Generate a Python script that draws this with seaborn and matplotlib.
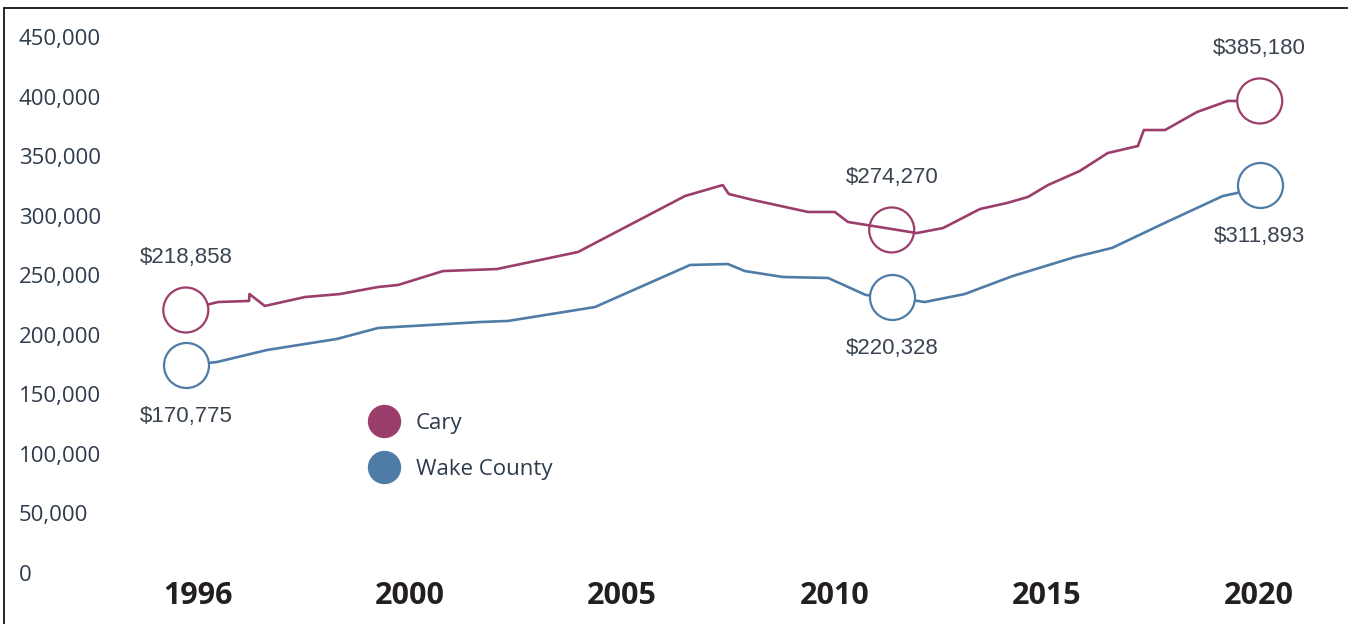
import matplotlib
matplotlib.use("Agg")
import matplotlib.pyplot as plt
import seaborn as sns
import pandas as pd
from matplotlib.lines import Line2D

# --- theme ---
sns.set_theme(style="white")
plt.rcParams["font.family"] = ["Open Sans", "DejaVu Sans"]

# --- data (median home value) ---
cary_years = [1994.72, 1995.48, 1996.21, 1996.22, 1996.58, 1997.53, 1998.35, 1999.25,
              1999.72, 2000.78, 2002.05, 2003.96, 2006.48, 2007.37, 2007.51, 2008.08,
              2009.38, 2010.01, 2010.32, 2011.94, 2012.56, 2013.43, 2014.06, 2014.56,
              2015.03, 2015.78, 2016.44, 2017.15, 2017.29, 2017.79, 2018.54, 2019.27,
              2019.48, 2020.02]
cary_values = [220800, 227500, 228400, 234200, 224200, 231700, 234200, 240100,
               241800, 253500, 255200, 269500, 316500, 325700, 318200, 313200,
               303100, 303100, 294700, 285400, 289600, 305600, 310600, 315700,
               325700, 337500, 352600, 358500, 371900, 371900, 387000, 396300,
               396300, 396300]

wake_years = [1994.72, 1995.45, 1996.63, 1998.28, 1999.25, 2001.65, 2002.31, 2004.36,
              2006.60, 2007.49, 2007.89, 2008.79, 2009.85, 2010.74, 2011.35, 2012.13,
              2013.07, 2014.20, 2015.67, 2016.54, 2017.83, 2019.15, 2019.48, 2020.02]
wake_values = [174600, 177100, 187200, 196500, 205700, 210700, 211600, 223300,
               258600, 259400, 253500, 248500, 247700, 233400, 231700, 227500,
               234200, 249300, 265300, 272900, 294700, 316500, 319000, 325700]

highlight_years = [1994.72, 2011.35, 2020.02]
cary_highlight = [220800, 288000, 396300]
wake_highlight = [174600, 231700, 325700]
cary_notes = ["$218,858", "$274,270", "$385,180"]
wake_notes = ["$170,775", "$220,328", "$311,893"]

tick_positions = [1995, 2000, 2005, 2010, 2015, 2020]
tick_labels = ["1996", "2000", "2005", "2010", "2015", "2020"]
y_ticks = list(range(0, 450001, 50000))

CARY = "#9b3e6b"
WAKE = "#4f7ba7"
TEXT = "#2e3b4a"

df = pd.concat([
    pd.DataFrame({"year": cary_years, "value": cary_values, "area": "Cary"}),
    pd.DataFrame({"year": wake_years, "value": wake_values, "area": "Wake County"}),
])

fig = plt.figure(figsize=(13.48, 6.24), dpi=100)
ax = fig.add_axes([120 / 1348, 51 / 624, 1200 / 1348, 536 / 624])

sns.lineplot(data=df, x="year", y="value", hue="area", sort=False,
             palette={"Cary": CARY, "Wake County": WAKE},
             linewidth=1.9, legend=False, ax=ax)

# highlighted points (open circles)
ax.scatter(highlight_years, cary_highlight, s=1050, facecolors=["white", "none", "white"],
           edgecolors=CARY, linewidths=1.6, zorder=5)
ax.scatter(highlight_years, wake_highlight, s=1050, facecolors="white",
           edgecolors=WAKE, linewidths=1.6, zorder=5)

note_font = dict(family=["Liberation Sans", "DejaVu Sans"], fontsize=16, color="#3a4350",
                 ha="center", va="center")
for x, y, t in zip(highlight_years, cary_highlight, cary_notes):
    ax.annotate(t, (x, y), xytext=(0, 38), textcoords="offset points", **note_font)
for x, y, t in zip(highlight_years, wake_highlight, wake_notes):
    ax.annotate(t, (x, y), xytext=(0, -37), textcoords="offset points", **note_font)

# axes
ax.set_xlim(1993.17, 2021.44)
ax.set_ylim(0, 450000)
ax.set_xticks(tick_positions)
ax.set_xticklabels(tick_labels, fontsize=22, fontweight="bold", color="#231f20")
ax.set_yticks(y_ticks)
ax.set_yticklabels([f"{v:,}" for v in y_ticks], fontsize=16, color=TEXT, ha="left")
ax.tick_params(axis="y", length=0, pad=73)
ax.tick_params(axis="x", length=0, pad=6)
ax.set_xlabel("")
ax.set_ylabel("")
for s in ax.spines.values():
    s.set_visible(False)

# legend
handles = [Line2D([], [], linestyle="none", marker="o", markersize=23,
                  markerfacecolor=c, markeredgecolor=c) for c in (CARY, WAKE)]
leg = ax.legend(handles, ["Cary", "Wake County"], loc="upper left",
                bbox_to_anchor=(0.192, 0.336), frameon=False, fontsize=16,
                labelspacing=1.11, handletextpad=0.85, handlelength=1.2)
for t in leg.get_texts():
    t.set_color(TEXT)

# frame lines on the left and top of the picture
fig.add_artist(Line2D([4 / 1348, 4 / 1348], [0, 1 - 8 / 624], transform=fig.transFigure,
                      color="black", linewidth=1.2))
fig.add_artist(Line2D([4 / 1348, 1], [1 - 8 / 624, 1 - 8 / 624], transform=fig.transFigure,
                      color="black", linewidth=1.2))

fig.savefig("out.png", dpi=100)
